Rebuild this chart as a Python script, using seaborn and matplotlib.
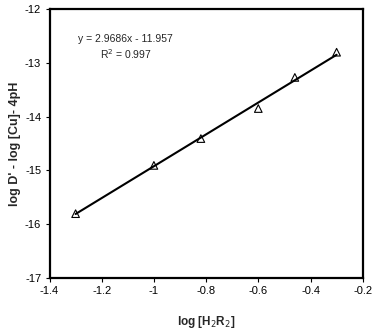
import matplotlib
matplotlib.use("Agg")
import matplotlib.pyplot as plt
import seaborn as sns
import numpy as np
import pandas as pd

# Data
log_h2r2 = [-1.30, -1.00, -0.82, -0.60, -0.46, -0.30]
log_d = [-15.81, -14.91, -14.41, -13.85, -13.27, -12.80]
slope = 2.9686
intercept = -11.957
r2 = 0.997

sns.set_theme(style="white")
plt.rcParams['font.family'] = ['Liberation Sans', 'DejaVu Sans']

fig = plt.figure(figsize=(3.72, 3.32), dpi=100)
ax = fig.add_axes([49.5/372, 1 - 277.5/332, (362.7-49.5)/372, (277.5-9.3)/332])

df = pd.DataFrame({"x": log_h2r2, "y": log_d})
xs = np.array([min(log_h2r2), max(log_h2r2)])
fit = pd.DataFrame({"x": xs, "y": slope * xs + intercept})

sns.lineplot(data=fit, x="x", y="y", ax=ax, color="black", linewidth=1.5)
sns.scatterplot(data=df, x="x", y="y", ax=ax, marker="^", s=30,
                facecolor="none", edgecolor="black", linewidth=0.8, zorder=3)

ax.set_xlim(-1.4, -0.2)
ax.set_ylim(-17, -12)
ax.set_xticks([-1.4, -1.2, -1.0, -0.8, -0.6, -0.4, -0.2])
ax.set_xticklabels(["-1.4", "-1.2", "-1", "-0.8", "-0.6", "-0.4", "-0.2"])
ax.set_yticks([-17, -16, -15, -14, -13, -12])
ax.set_yticklabels(["-17", "-16", "-15", "-14", "-13", "-12"])
ax.tick_params(axis="both", direction="out", length=3, width=0.8,
               labelsize=8, colors="black", bottom=True, left=True, pad=3)
for sp in ax.spines.values():
    sp.set_color("black")
    sp.set_linewidth(1.6)

ax.set_xlabel("log [H$_2$R$_2$]", fontsize=8.5, fontweight="bold", labelpad=13)
ax.set_ylabel("log D' - log [Cu]- 4pH", fontsize=9, fontweight="bold", labelpad=3)

ax.text(0.092, 0.889, f"y = {slope}x - {abs(intercept)}", transform=ax.transAxes,
        fontsize=7.5, ha="left", va="center")
ax.text(0.161, 0.832, f"R$^2$ = {r2}", transform=ax.transAxes,
        fontsize=7.5, ha="left", va="center")

fig.savefig("out.png", dpi=100)
